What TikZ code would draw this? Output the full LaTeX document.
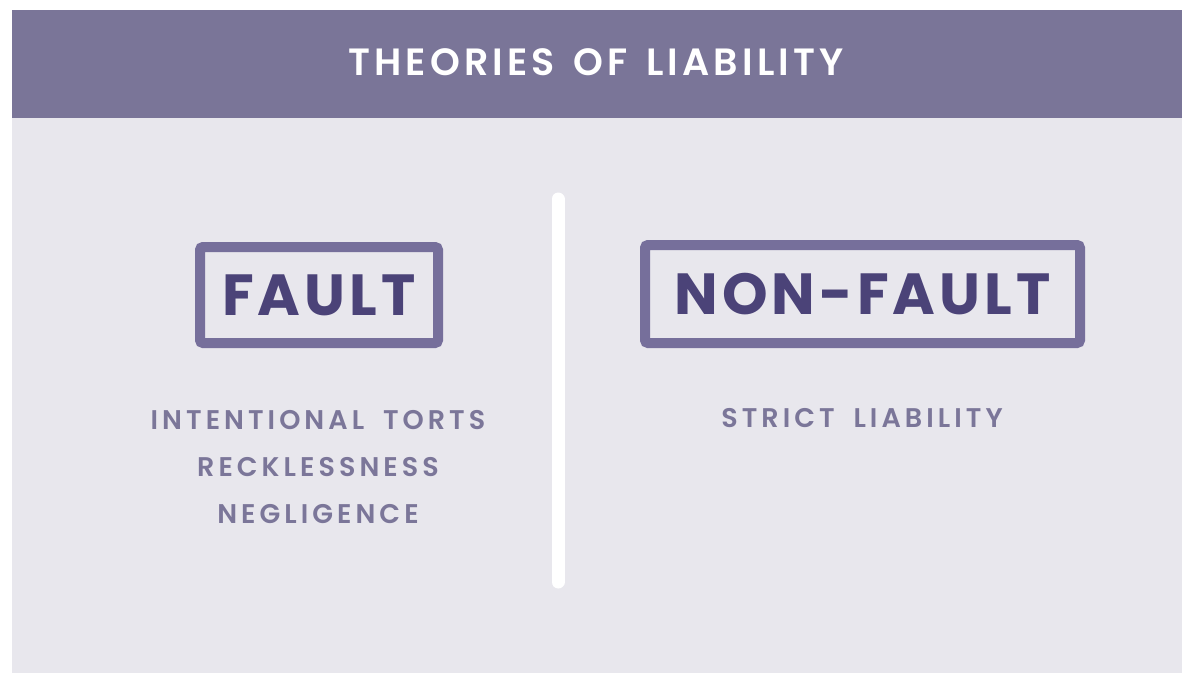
\documentclass[tikz,border=0pt]{standalone}
\usepackage{fontspec}
\usepackage{tikz}
\usetikzlibrary{positioning}
\newfontfamily\headfont[UprightFont=* SemiBold, LetterSpace=11, WordSpace=1.4]{Poppins}
\newfontfamily\boxfont[UprightFont=* Bold, LetterSpace=7, WordSpace=1.5]{Poppins}
\newfontfamily\listfont[UprightFont=* SemiBold, LetterSpace=15, WordSpace=1.8]{Poppins}
\definecolor{bandpurple}{HTML}{7A7598}
\definecolor{panelgray}{HTML}{E8E7ED}
\definecolor{framepurple}{HTML}{766F9B}
\definecolor{inkpurple}{HTML}{4B4378}
\definecolor{listpurple}{HTML}{7B7699}

\begin{document}
\begin{tikzpicture}[x=1pt, y=-1pt,
		heading/.style={text=white, font=\headfont\fontsize{38}{44}\selectfont},
		theorybox/.style={draw=framepurple, line width=10pt, rounded corners=3pt, text=inkpurple, font=\boxfont\fontsize{58}{64}\selectfont, inner sep=0pt},
		examples/.style={text=listpurple, align=center, font=\listfont\fontsize{27}{47}\selectfont}]
		\def\W{1182}\def\H{673}\def\band{118}
		\useasboundingbox (0,0) rectangle (\W,\H);
		\fill[white] (0,0) rectangle (\W,\H);
		% panel and title band
		\fill[panelgray] (12,10) rectangle (\W,\H);
		\fill[bandpurple] (12,10) rectangle (\W,\band);
		\node[heading] (title) at (596,62) {THEORIES OF LIABILITY};
		% divider
		\coordinate (divtop) at (558,199);
		\coordinate (divbot) at (558,582);
		\draw[white, line width=13pt, line cap=round] (divtop) -- (divbot);
		% the two boxes
		\node[theorybox, minimum width=238pt, minimum height=96pt] (fault) at (319,295) {FAULT};
		\node[theorybox, minimum width=435pt, minimum height=98pt] (nonfault) at (862.5,294) {NON-FAULT};
		% what falls under each
		\node[examples] (faultlist) at (318,467) {INTENTIONAL TORTS\\RECKLESSNESS\\NEGLIGENCE};
		\node[examples] (nonfaultlist) at (862,418) {STRICT LIABILITY};
	\end{tikzpicture}
\end{document}
